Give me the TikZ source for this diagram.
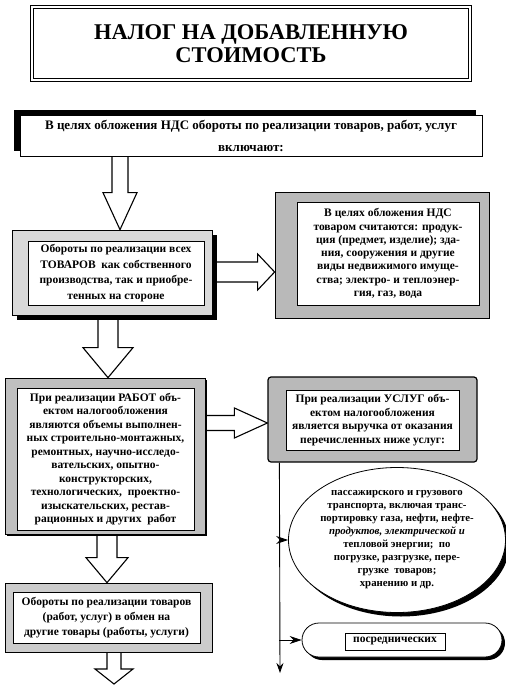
\documentclass[tikz,border=0pt]{standalone}
\usepackage{fontspec}
\setmainfont{Liberation Serif}
\usetikzlibrary{arrows.meta,calc,shapes.geometric,shadows,backgrounds}

% hollow block arrows: centre, from, to, half shaft, half head, head length
\newcommand\blockdown[6]{%
  \draw[blockarrow] let \p1=#2, \p2=#3 in
    (#1pt-#4pt,\y1) -- (#1pt-#4pt,\y2+#6pt) -- (#1pt-#5pt,\y2+#6pt) -- (#1pt,\y2)
    -- (#1pt+#5pt,\y2+#6pt) -- (#1pt+#4pt,\y2+#6pt) -- (#1pt+#4pt,\y1);}
\newcommand\blockright[6]{%
  \draw[blockarrow] let \p1=#2, \p2=#3 in
    (\x1,-#1pt+#4pt) -- (\x2-#6pt,-#1pt+#4pt) -- (\x2-#6pt,-#1pt+#5pt) -- (\x2,-#1pt)
    -- (\x2-#6pt,-#1pt-#5pt) -- (\x2-#6pt,-#1pt-#4pt) -- (\x1,-#1pt-#4pt);}

\begin{document}
\begin{tikzpicture}[x=1pt,y=-1pt,
    leading/.style={font=\bfseries\fontsize{11.5pt}{#1}\selectfont},
    titlebox/.style={draw,double,double distance=2.2pt,line width=.9pt,align=center,
      font=\bfseries\fontsize{22.5pt}{23pt}\selectfont},
    topbox/.style={draw,fill=white,line width=.8pt,align=center,
      font=\bfseries\fontsize{13pt}{22pt}\selectfont,
      drop shadow={shadow xshift=-6pt,shadow yshift=5pt,fill=black,opacity=1}},
    grayframe/.style={draw,fill=#1,line width=.7pt},
    inbox/.style={draw,fill=white,line width=.6pt,align=center},
    blackshadow/.style={drop shadow={shadow xshift=#1,shadow yshift=-#1,fill=black,opacity=1}},
    blockarrow/.style={draw,fill=white,line width=1.1pt,line join=miter},
    branch/.style={line width=.8pt,-{Stealth[length=12pt,width=8pt]}}]
  \useasboundingbox (0,0) rectangle (506,689);

  \node[titlebox,minimum width=438pt,minimum height=73pt] (title) at (251,43.5)
    {НАЛОГ НА ДОБАВЛЕННУЮ\\СТОИМОСТЬ};
  \node[topbox,minimum width=462pt,minimum height=41pt] (incl) at (251,135.5)
    {В целях обложения НДС обороты по реализации товаров, работ, услуг\\включают:};

  \node[grayframe=gray!30,blackshadow=5pt,minimum width=200pt,minimum height=85pt] (goods) at (112,272.5) {};
  \node[inbox,leading=15.5pt,minimum width=176pt,minimum height=64pt] (goodstxt) at (116,273)
    {Обороты по реализации всех\\ТОВАРОВ~ как собственного\\производства, так и приобре-\\тенных на стороне};

  \node[grayframe=gray!55,minimum width=214pt,minimum height=126pt] (goodsdef) at (382,255) {};
  \node[inbox,leading=13.3pt,minimum width=182pt,minimum height=103pt] (goodsdeftxt) at (388,253.5)
    {В целях обложения НДС\\товаром считаются: продук-\\ция (предмет, изделие); зда-\\ния, сооружения и другие\\виды недвижимого имуще-\\ства; электро- и теплоэнер-\\гия, газ, вода};

  \node[grayframe=gray!50,blackshadow=2pt,minimum width=200pt,minimum height=156pt] (works) at (105,456) {};
  \node[inbox,leading=13.5pt,minimum width=177pt,minimum height=142pt] (workstxt) at (105.5,459)
    {При реализации РАБОТ объ-\\ектом налогообложения\\являются объемы выполнен-\\ных строительно-монтажных,\\ремонтных, научно-исследо-\\вательских, опытно-\\конструкторских,\\технологических,~ проектно-\\изыскательских, рестав-\\рационных и других~ работ};

  \node[grayframe=gray!55,line width=1.2pt,rounded corners=3pt,minimum width=209pt,minimum height=85pt] (serv) at (372.5,419.5) {};
  \node[inbox,leading=13.5pt,minimum width=173pt,minimum height=60pt] (servtxt) at (372.5,420)
    {При реализации УСЛУГ объ-\\ектом налогообложения\\является выручка от оказания\\перечисленных ниже услуг:};

  \node[grayframe=gray!40,minimum width=207pt,minimum height=69pt] (exch) at (108.5,617.5) {};
  \node[inbox,leading=15pt,minimum width=187pt,minimum height=51pt] (exchtxt) at (106.5,617.5)
    {Обороты по реализации товаров\\(работ, услуг) в обмен на\\другие товары (работы, услуги)};

  \node[ellipse,draw,fill=white,line width=.8pt,blackshadow=4pt,align=center,
    font=\bfseries\fontsize{10.8pt}{13pt}\selectfont,
    minimum width=200pt,minimum height=145pt,inner sep=0pt] (trans) at (397,540)
    {пассажирского и грузового\\транспорта, включая транс-\\портировку газа, нефти, нефте-\\\textit{продуктов, электрической и}\\тепловой энергии;~ по\\погрузке, разгрузке, пере-\\грузке~ товаров;\\хранению и др.};

  \node[draw,fill=white,line width=.8pt,rounded corners=17pt,blackshadow=3pt,
    minimum width=200pt,minimum height=34pt] (agent) at (402,640) {};
  \node[inbox,leading=13pt,minimum width=100pt,minimum height=17pt,inner sep=1pt] (agenttxt) at (395,641.5) {посреднических};

  \begin{scope}[on background layer]
    \blockdown{120}{(incl.south)}{(goods.north)}{8}{17}{37}
    \blockdown{108}{(goods.south)}{(works.north)}{10}{25}{30}
    \blockdown{107}{(works.south)}{(exch.north)}{10}{21}{25}
    \coordinate (exend) at (114,684);
    \blockdown{114}{(exch.south)}{(exend)}{7}{19}{15}
    \blockright{272}{(goods.east)}{(goodsdef.west)}{10}{18}{17}
    \blockright{423}{(works.east)}{(serv.west)}{7.5}{15}{33}
  \end{scope}

  \coordinate (vtop) at ($(serv.south west)+(12,0)$);
  \coordinate (vend) at (280,673);
  \draw[line width=.9pt,-{Stealth[length=10pt,width=7pt]}] (vtop) -- (vend);
  \draw[branch] (trans.west -| vtop) -- (trans.west);
  \draw[branch] (agent.west -| vtop) -- (agent.west);
\end{tikzpicture}
\end{document}
